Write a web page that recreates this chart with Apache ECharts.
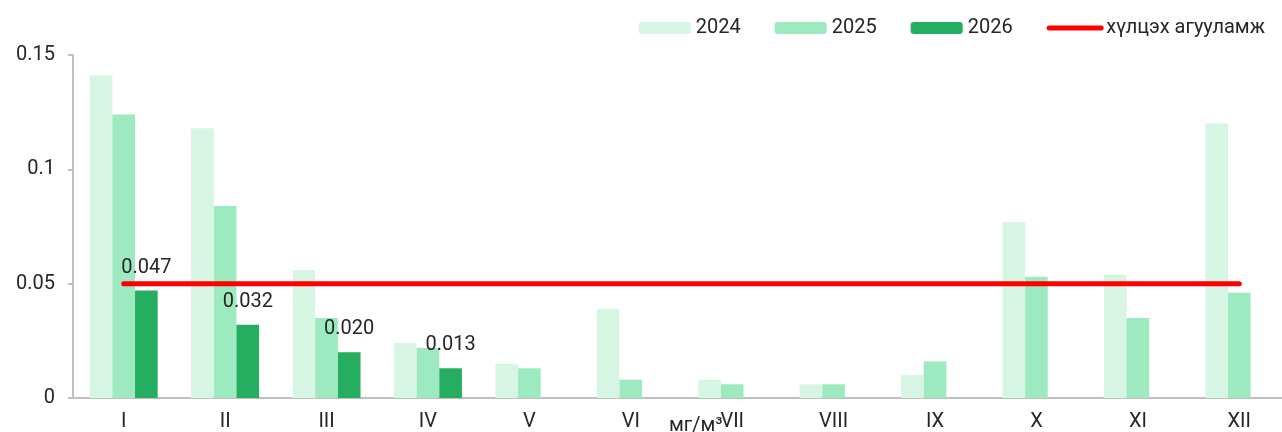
<!DOCTYPE html>
<html>
<head>
<meta charset="utf-8">
<script src="https://cdn.jsdelivr.net/npm/echarts@6/dist/echarts.min.js"></script>
<style>
  html, body { margin: 0; padding: 0; background: #fff; }
  #main { width: 1282px; height: 432px; }
</style>
</head>
<body>
<div id="main"></div>
<script>
var months = ['I', 'II', 'III', 'IV', 'V', 'VI', 'VII', 'VIII', 'IX', 'X', 'XI', 'XII'];
var v2024 = [0.141, 0.118, 0.056, 0.024, 0.015, 0.039, 0.008, 0.006, 0.010, 0.077, 0.054, 0.120];
var v2025 = [0.124, 0.084, 0.035, 0.022, 0.013, 0.008, 0.006, 0.006, 0.016, 0.053, 0.035, 0.046];
var v2026 = [0.047, 0.032, 0.020, 0.013, null, null, null, null, null, null, null, null];
var limit = [0.05, 0.05, 0.05, 0.05, 0.05, 0.05, 0.05, 0.05, 0.05, 0.05, 0.05, 0.05];
var yTicks = { min: 0, max: 0.15, interval: 0.05 };

var chartDom = document.getElementById('main');
var myChart = echarts.init(chartDom);
var option;

var textColor = '#262626';
var font = 'Roboto';

option = {
  animation: false,
  textStyle: { fontFamily: font },
  legend: {
    right: 12,
    top: 13,
    itemWidth: 52,
    itemHeight: 12,
    itemGap: 34,
    textStyle: { fontSize: 20, color: textColor, fontFamily: font },
    data: [
      '2024',
      '2025',
      '2026',
      {
        name: 'хүлцэх агууламж',
        itemStyle: { opacity: 0 },
        lineStyle: { width: 5, cap: 'round', color: '#ff0000' }
      }
    ]
  },
  grid: {
    left: 73,
    right: -8,
    top: 55,
    bottom: 34,
    outerBoundsMode: 'none',
    containLabel: false
  },
  xAxis: {
    type: 'category',
    data: months,
    axisLine: { lineStyle: { color: '#bfbfbf', width: 2 } },
    axisTick: { length: 5, lineStyle: { color: '#bfbfbf', width: 2 } },
    axisLabel: { color: textColor, fontSize: 20, margin: 14, fontFamily: font }
  },
  yAxis: {
    type: 'value',
    min: yTicks.min,
    max: yTicks.max,
    interval: yTicks.interval,
    splitLine: { show: false },
    axisLine: { show: true, lineStyle: { color: '#bfbfbf', width: 2 } },
    axisTick: { show: true, length: 5, lineStyle: { color: '#bfbfbf', width: 2 } },
    axisLabel: { color: textColor, fontSize: 20, margin: 18, fontFamily: font }
  },
  graphic: [
    {
      type: 'text',
      left: 669,
      top: 416,
      style: { text: 'мг/м³', fill: textColor, fontSize: 20, fontFamily: font }
    }
  ],
  series: [
    {
      name: '2024',
      type: 'bar',
      data: v2024,
      barGap: '0%',
      barCategoryGap: '33%',
      itemStyle: { color: '#d7f5e3' }
    },
    {
      name: '2025',
      type: 'bar',
      data: v2025,
      itemStyle: { color: '#9eeac0' }
    },
    {
      name: '2026',
      type: 'bar',
      data: v2026,
      itemStyle: { color: '#25ae5f' },
      label: {
        show: true,
        position: 'top',
        distance: 13,
        color: textColor,
        fontSize: 20,
        fontFamily: font,
        formatter: function (p) { return p.value == null ? '' : p.value.toFixed(3); }
      }
    },
    {
      name: 'хүлцэх агууламж',
      type: 'line',
      data: limit,
      symbol: 'none',
      z: 5,
      lineStyle: { color: '#ff0000', width: 5, cap: 'round' },
      itemStyle: { color: '#ff0000' }
    }
  ]
};

option && myChart.setOption(option);
</script>
</body>
</html>
